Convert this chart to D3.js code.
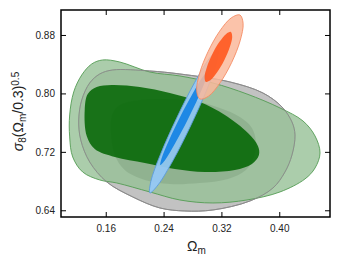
<!DOCTYPE html>
<html>
<head>
<meta charset="utf-8">
<script src="https://cdn.jsdelivr.net/npm/d3@7"></script>
<style>
  body { margin: 0; background: #fff; }
  text { font-family: "Liberation Sans", Arial, sans-serif; }
</style>
</head>
<body>
<div id="chart"></div>
<script>
// tick values
var xTicks = [0.16, 0.24, 0.32, 0.40];
var yTicks = [0.64, 0.72, 0.80, 0.88];

// contour outlines, [Omega_m, S8]
var grayOuter = [[0.1697, 0.8321], [0.2209, 0.8307], [0.2625, 0.8266], [0.3317, 0.8157], [0.3774, 0.8006],
    [0.4038, 0.7814], [0.4176, 0.7609], [0.4218, 0.7431], [0.4176, 0.7157], [0.4079, 0.6924],
    [0.3913, 0.6705], [0.3594, 0.6527], [0.3082, 0.6404], [0.2694, 0.6390], [0.2348, 0.6432],
    [0.1974, 0.6582], [0.1614, 0.6788], [0.1378, 0.7061], [0.1254, 0.7363], [0.1226, 0.7636],
    [0.1268, 0.7910], [0.1378, 0.8143], [0.1517, 0.8266]];
var grayInner = [[0.1669, 0.7540], [0.1697, 0.7732], [0.1794, 0.7842], [0.2071, 0.7910], [0.2445, 0.7924],
    [0.2833, 0.7896], [0.3179, 0.7801], [0.3456, 0.7677], [0.3622, 0.7527], [0.3678, 0.7335],
    [0.3650, 0.7130], [0.3539, 0.6952], [0.3290, 0.6829], [0.2902, 0.6774], [0.2486, 0.6760],
    [0.2140, 0.6815], [0.1863, 0.6952], [0.1725, 0.7157]];
var greenOuter = [[0.1558, 0.8458], [0.1794, 0.8430], [0.2209, 0.8293], [0.2625, 0.8239], [0.3082, 0.8143],
    [0.3553, 0.7992], [0.4010, 0.7801], [0.4328, 0.7623], [0.4495, 0.7417], [0.4564, 0.7185],
    [0.4495, 0.6979], [0.4356, 0.6829], [0.4010, 0.6651], [0.3553, 0.6541], [0.3082, 0.6500],
    [0.2625, 0.6541], [0.2209, 0.6651], [0.1752, 0.6774], [0.1517, 0.6815], [0.1281, 0.6924],
    [0.1143, 0.7130], [0.1101, 0.7404], [0.1101, 0.7705], [0.1157, 0.8020], [0.1268, 0.8252],
    [0.1406, 0.8403]];
var greenInner = [[0.1309, 0.7773], [0.1351, 0.7993], [0.1475, 0.8088], [0.1683, 0.8116], [0.2071, 0.8088],
    [0.2486, 0.8006], [0.2902, 0.7883], [0.3248, 0.7705], [0.3567, 0.7458], [0.3705, 0.7280],
    [0.3719, 0.7157], [0.3622, 0.7034], [0.3387, 0.6952], [0.2971, 0.6924], [0.2556, 0.6966],
    [0.2140, 0.7048], [0.1725, 0.7130], [0.1448, 0.7239], [0.1337, 0.7417]];
var blueOuter = [[0.3150, 0.8593], [0.3137, 0.8439], [0.3003, 0.8063], [0.2780, 0.7569], [0.2532, 0.7086],
    [0.2323, 0.6747], [0.2211, 0.6638], [0.2223, 0.6793], [0.2358, 0.7168], [0.2581, 0.7662],
    [0.2828, 0.8146], [0.3038, 0.8485]];
var blueInner = [[0.3006, 0.8293], [0.2986, 0.8196], [0.2885, 0.7954], [0.2730, 0.7632], [0.2560, 0.7317],
    [0.2424, 0.7093], [0.2355, 0.7020], [0.2374, 0.7117], [0.2475, 0.7360], [0.2630, 0.7682],
    [0.2801, 0.7996], [0.2937, 0.8221]];
var orangeOuter = [[0.3456, 0.9074], [0.3500, 0.8959], [0.3459, 0.8721], [0.3341, 0.8422], [0.3182, 0.8146],
    [0.3021, 0.7962], [0.2902, 0.7924], [0.2858, 0.8039], [0.2899, 0.8277], [0.3017, 0.8575],
    [0.3176, 0.8852], [0.3337, 0.9035]];
var orangeInner = [[0.3331, 0.8841], [0.3349, 0.8774], [0.3316, 0.8634], [0.3241, 0.8458], [0.3143, 0.8292],
    [0.3050, 0.8183], [0.2985, 0.8157], [0.2967, 0.8224], [0.3000, 0.8363], [0.3075, 0.8540],
    [0.3173, 0.8706], [0.3266, 0.8815]];

var svgWidth = 340;
var svgHeight = 264;
var margin = { top: 10, right: 10, bottom: 47, left: 61 };
var width = svgWidth - margin.left - margin.right;
var height = svgHeight - margin.top - margin.bottom;

var svg = d3.select('#chart').append('svg')
    .attr('width', svgWidth)
    .attr('height', svgHeight);

var chartGroup = svg.append('g')
    .attr('transform', `translate(${margin.left}, ${margin.top})`);

var x = d3.scaleLinear().domain([0.0981, 0.4702]).range([0, width]);
var y = d3.scaleLinear().domain([0.6308, 0.9142]).range([height, 0]);

svg.append('defs').append('clipPath').attr('id', 'plot')
    .append('rect').attr('width', width).attr('height', height);

var plot = chartGroup.append('g').attr('clip-path', 'url(#plot)');

var line = d3.line()
    .x(d => x(d[0]))
    .y(d => y(d[1]))
    .curve(d3.curveCatmullRomClosed.alpha(0.5));

function contour(pts, fill, fillOpacity, stroke) {
    plot.append('path')
        .attr('d', line(pts))
        .attr('fill', fill)
        .attr('fill-opacity', fillOpacity)
        .attr('stroke', stroke || 'none')
        .attr('stroke-width', 0.9);
}

// gray
contour(grayOuter, '#c2c2c2', 1, '#8a8a8a');
contour(grayInner, '#7a7a7a', 1);
// green
contour(greenOuter, 'rgb(150,192,150)', 0.8, '#549c54');
contour(greenInner, 'rgb(0,100,0)', 0.85);
// gray outline shows through the green
contour(grayOuter, 'none', 0, '#8a8a8a');
// blue
contour(blueOuter, 'rgb(150,200,245)', 0.95, 'rgb(90,155,220)');
contour(blueInner, 'rgb(30,136,229)', 1);
// orange
contour(orangeOuter, 'rgb(250,185,155)', 0.85, 'rgb(245,140,100)');
contour(orangeInner, 'rgb(255,88,30)', 0.9);

// axes, ticks pointing inward
var fmt = d3.format('.2f');

var xAxis = chartGroup.append('g')
    .attr('transform', `translate(0, ${height})`)
    .call(d3.axisBottom(x).tickValues(xTicks).tickFormat(fmt).tickSizeInner(-5).tickSizeOuter(0).tickPadding(8));
var yAxis = chartGroup.append('g')
    .call(d3.axisLeft(y).tickValues(yTicks).tickFormat(fmt).tickSizeInner(-5).tickSizeOuter(0).tickPadding(6));
chartGroup.append('g')
    .call(d3.axisTop(x).tickValues(xTicks).tickFormat('').tickSizeInner(-5).tickSizeOuter(0));
chartGroup.append('g')
    .attr('transform', `translate(${width}, 0)`)
    .call(d3.axisRight(y).tickValues(yTicks).tickFormat('').tickSizeInner(-5).tickSizeOuter(0));

chartGroup.selectAll('.domain').remove();
chartGroup.selectAll('.tick line').attr('stroke', '#000').attr('stroke-width', 1);
chartGroup.selectAll('.tick text')
    .attr('fill', '#222')
    .style('font-size', '10px')
    .style('font-family', '"Liberation Sans", Arial, sans-serif');

chartGroup.append('rect')
    .attr('width', width)
    .attr('height', height)
    .attr('fill', 'none')
    .attr('stroke', '#000')
    .attr('stroke-width', 1.5);

// axis labels
var xLabel = svg.append('text')
    .attr('x', margin.left + width / 2 + 1)
    .attr('y', 251)
    .attr('text-anchor', 'middle')
    .style('font-size', '14px')
    .attr('fill', '#222');
xLabel.append('tspan').text('Ω');
xLabel.append('tspan').attr('baseline-shift', '-25%').style('font-size', '10px').text('m');

var yLabel = svg.append('text')
    .attr('transform', `translate(23, ${margin.top + height / 2 - 2}) rotate(-90)`)
    .attr('text-anchor', 'middle')
    .style('font-size', '14px')
    .attr('fill', '#222');
yLabel.append('tspan').style('font-style', 'italic').text('σ');
yLabel.append('tspan').attr('baseline-shift', '-25%').style('font-size', '10px').text('8');
yLabel.append('tspan').text('(Ω');
yLabel.append('tspan').attr('baseline-shift', '-25%').style('font-size', '10px').text('m');
yLabel.append('tspan').text('/0.3)');
yLabel.append('tspan').attr('baseline-shift', '45%').style('font-size', '10px').text('0.5');
</script>
</body>
</html>
